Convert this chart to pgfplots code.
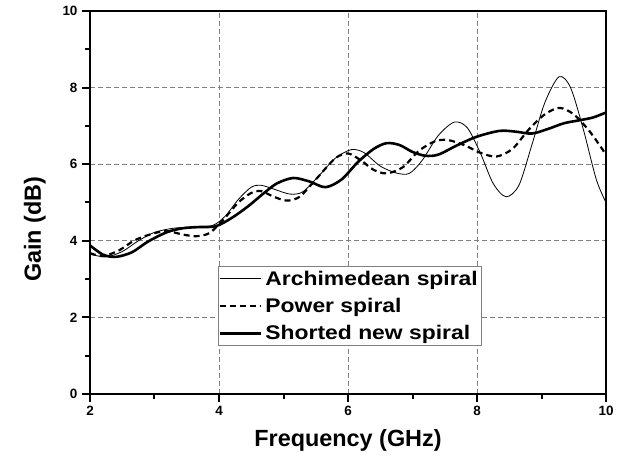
\documentclass[border=0pt]{standalone}
\usepackage{fontspec}
\setmainfont{Liberation Sans}
\newfontfamily\legfont[FakeStretch=1.16]{Liberation Sans}
\usepackage{pgfplots}
\pgfplotsset{compat=1.18}
\begin{document}
\begin{tikzpicture}
\begin{axis}[
  scale only axis, width=516bp, height=383bp,
  xmin=2, xmax=10, ymin=0, ymax=10,
  xtick={2,4,...,10}, ytick={0,2,...,10},
  minor x tick num=1, minor y tick num=1,
  tick pos=left,
  tick align=outside, major tick length=8bp, minor tick length=5bp,
  every tick/.style={black, line width=2bp},
  axis line style={line width=2.6bp},
  grid=major, major grid style={gray, dashed, line width=0.7bp, dash pattern=on 5bp off 3bp},
  /pgf/number format/assume math mode=true,
  ticklabel style={font=\fontsize{13.5}{13.5}\selectfont\bfseries},
  xticklabel style={yshift=-1bp},
  yticklabel style={xshift=-1bp},
  xlabel={Frequency (GHz)}, ylabel={Gain (dB)},
  label style={font=\fontsize{23.5}{23.5}\selectfont\bfseries},
  xlabel style={at={(axis description cs:0.5,-0.12)}, anchor=center},
  ylabel style={at={(axis description cs:-0.107,0.43)}, anchor=center, rotate=0},
  legend style={at={(axis description cs:0.248,0.334)}, anchor=north west,
    draw=gray, line width=0.8bp, font=\fontsize{19.8}{19.8}\selectfont\legfont\bfseries,
    inner xsep=0bp, inner ysep=4.5bp, row sep=11.5bp,
    nodes={inner xsep=3.5bp, inner ysep=0bp}},
  legend cell align=left,
  legend image code/.code={\draw[#1] (-3bp,0bp) -- (38bp,0bp);},
  clip=true,
]
\coordinate (bl) at (rel axis cs:0,0);
\coordinate (tr) at (rel axis cs:1,1);
\addplot[black, line width=0.8bp, smooth] coordinates {
(2.0,3.65) (2.25,3.58) (2.5,3.72) (2.75,4.0) (3.0,4.22) (3.3,4.33) (3.6,4.36) (3.9,4.4)
(4.1,4.65) (4.3,5.08) (4.5,5.40) (4.65,5.45) (4.85,5.35) (5.1,5.22) (5.3,5.28) (5.55,5.7)
(5.8,6.15) (6.05,6.38) (6.25,6.3) (6.5,5.95) (6.75,5.77) (6.95,5.76) (7.15,6.1) (7.4,6.75)
(7.65,7.1) (7.85,6.95) (8.05,6.3) (8.25,5.5) (8.45,5.15) (8.65,5.45) (8.85,6.5) (9.05,7.6)
(9.27,8.28) (9.45,8.0) (9.65,6.9) (9.85,5.6) (10.0,5.0)};
\addlegendentry{Archimedean spiral}
\addplot[black, line width=2.2bp, dash pattern=on 6bp off 4bp, smooth] coordinates {
(2.0,3.68) (2.2,3.6) (2.45,3.75) (2.7,4.02) (3.0,4.2) (3.2,4.25) (3.45,4.16) (3.65,4.12)
(3.85,4.2) (4.05,4.52) (4.3,5.0) (4.5,5.25) (4.65,5.3) (4.85,5.15) (5.05,5.05) (5.25,5.15)
(5.5,5.6) (5.8,6.15) (6.0,6.28) (6.2,6.1) (6.4,5.85) (6.6,5.76) (6.85,5.92) (7.1,6.35)
(7.35,6.6) (7.55,6.63) (7.8,6.5) (8.05,6.3) (8.3,6.2) (8.55,6.4) (8.8,6.9) (9.05,7.3)
(9.28,7.47) (9.5,7.3) (9.75,6.85) (10.0,6.25)};
\addlegendentry{Power spiral}
\addplot[black, line width=2.6bp, smooth] coordinates {
(2.0,3.88) (2.2,3.64) (2.4,3.58) (2.65,3.7) (2.9,3.98) (3.2,4.23) (3.45,4.33) (3.7,4.36)
(3.95,4.38) (4.2,4.6) (4.45,4.9) (4.7,5.25) (4.9,5.5) (5.15,5.64) (5.4,5.55) (5.65,5.4)
(5.9,5.6) (6.15,6.05) (6.4,6.4) (6.6,6.55) (6.8,6.5) (7.0,6.32) (7.2,6.22) (7.4,6.25)
(7.7,6.5) (8.0,6.72) (8.35,6.87) (8.6,6.85) (8.85,6.8) (9.1,6.92) (9.35,7.07) (9.6,7.15)
(9.8,7.22) (10.0,7.35)};
\addlegendentry{Shorted new spiral}
\end{axis}
\pgfresetboundingbox
\path ([shift={(-90bp,-66bp)}]bl) rectangle ([shift={(20bp,11bp)}]tr);
\end{tikzpicture}
\end{document}
